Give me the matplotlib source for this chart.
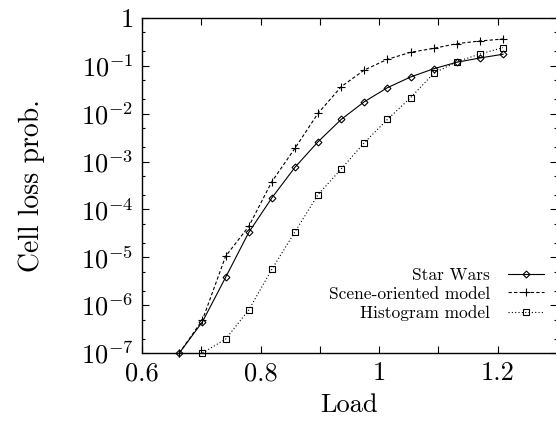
import numpy as np
import matplotlib
matplotlib.use('Agg')
import matplotlib.pyplot as plt
from matplotlib.ticker import FixedLocator, FixedFormatter
from matplotlib.legend_handler import HandlerLine2D

# LaTeX-like look
plt.rcParams['font.family'] = 'serif'
plt.rcParams['font.serif'] = ['cmr10']
plt.rcParams['mathtext.fontset'] = 'cm'
plt.rcParams['axes.formatter.use_mathtext'] = True

# data
load = [0.663, 0.702, 0.741, 0.780, 0.819, 0.858, 0.897, 0.936,
        0.975, 1.014, 1.053, 1.092, 1.131, 1.170, 1.209]
star_wars = [1e-7, 4.5e-7, 3.8e-6, 3.3e-5, 1.74e-4, 7.6e-4, 2.6e-3, 7.6e-3,
             1.78e-2, 3.5e-2, 5.85e-2, 8.7e-2, 0.119, 0.146, 0.175]
scene = [1e-7, 4.9e-7, 1.05e-5, 4.4e-5, 3.8e-4, 1.9e-3, 1.02e-2, 3.67e-2,
         8.2e-2, 0.137, 0.192, 0.232, 0.291, 0.331, 0.364]
load_hist = load[1:]
histogram = [1e-7, 1.95e-7, 7.9e-7, 5.6e-6, 3.4e-5, 2.04e-4, 7.0e-4,
             2.48e-3, 7.6e-3, 2.16e-2, 6.98e-2, 0.122, 0.177, 0.24]

x_ticks = [0.6, 0.7, 0.8, 0.9, 1.0, 1.1, 1.2, 1.3]
x_labels = ['0.6', '', '0.8', '', '1', '', '1.2', '']
y_ticks = [1e-7, 1e-6, 1e-5, 1e-4, 1e-3, 1e-2, 1e-1, 1]
y_labels = [r'$10^{-7}$', r'$10^{-6}$', r'$10^{-5}$', r'$10^{-4}$',
            r'$10^{-3}$', r'$10^{-2}$', r'$10^{-1}$', '1']


class OffsetMarkerHandler(HandlerLine2D):
    # gnuplot puts the key marker about a third along the sample line
    def get_xdata(self, legend, xdescent, ydescent, width, height, fontsize):
        xdata = np.array([-xdescent, -xdescent + width])
        return xdata, np.array([-xdescent + 0.32 * width])


fig = plt.figure(figsize=(5.56, 4.25), dpi=100)
ax = fig.add_axes([142 / 556, 1 - 353 / 425, 415 / 556, 335 / 425])

l1, = ax.plot(load, star_wars, color='black', lw=0.8, marker='D', ms=3.5,
              mfc='none', mew=0.8, label='Star Wars', clip_on=False)
l2, = ax.plot(load, scene, color='black', lw=0.8, ls=(0, (3, 2)), marker='+',
              ms=6, mew=0.8, label='Scene-oriented model', clip_on=False)
l3, = ax.plot(load_hist, histogram, color='black', lw=0.8, ls=(0, (1, 2)),
              marker='s', ms=4.5, mfc='none', mew=0.8, label='Histogram model',
              clip_on=False)

ax.set_yscale('log')
ax.set_xlim(0.6, 1.3)
ax.set_ylim(1e-7, 1)

ax.xaxis.set_major_locator(FixedLocator(x_ticks))
ax.xaxis.set_major_formatter(FixedFormatter(x_labels))
ax.yaxis.set_major_locator(FixedLocator(y_ticks))
ax.yaxis.set_major_formatter(FixedFormatter(y_labels))
minor = [m * d for d in y_ticks[:-1] for m in (2, 5)]
ax.yaxis.set_minor_locator(FixedLocator(minor))
ax.yaxis.set_minor_formatter(FixedFormatter([''] * len(minor)))

ax.tick_params(which='both', direction='in', top=True, right=True,
               labelsize=19, width=0.8)
ax.tick_params(which='major', length=5, pad=6)
ax.tick_params(which='minor', length=2.5)
for s in ax.spines.values():
    s.set_linewidth(1.0)

ax.set_xlabel('Load', fontsize=19, labelpad=6)
ax.set_ylabel('Cell loss prob.', fontsize=20, labelpad=26)

h = OffsetMarkerHandler()
ax.legend(handles=[l1, l2, l3], handler_map={l1: h, l2: h, l3: h},
          loc='lower right', bbox_to_anchor=(0.99, 0.07), frameon=False,
          markerfirst=False, fontsize=12.5, handlelength=2.1,
          handletextpad=1.0, labelspacing=0.2, borderpad=0)

fig.savefig('out.png', dpi=100)
